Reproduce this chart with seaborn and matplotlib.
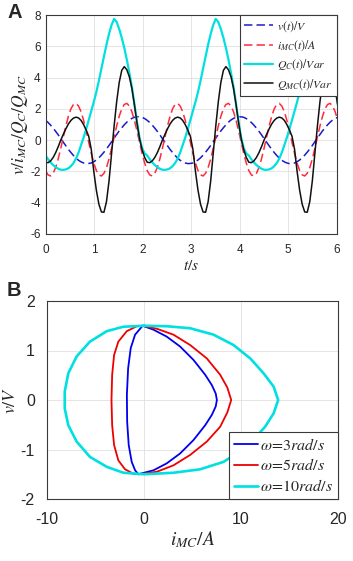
import matplotlib
matplotlib.use("Agg")
import matplotlib.pyplot as plt
import seaborn as sns

# ---------------- Panel A data ----------------
t_s = [0.0000, 0.0524, 0.1047, 0.1571, 0.2094, 0.2618, 0.3142, 0.3665, 0.4189, 0.4712,
       0.5236, 0.5760, 0.6283, 0.6807, 0.7330, 0.7854, 0.8378, 0.8901, 0.9425, 0.9948,
       1.0472, 1.0996, 1.1519, 1.2043, 1.2566, 1.3090, 1.3614, 1.4137, 1.4661, 1.5184,
       1.5708, 1.6232, 1.6755, 1.7279, 1.7802, 1.8326, 1.8850, 1.9373, 1.9897, 2.0420,
       2.0944, 2.1468, 2.1991, 2.2515, 2.3038, 2.3562, 2.4086, 2.4609, 2.5133, 2.5656,
       2.6180, 2.6704, 2.7227, 2.7751, 2.8274, 2.8798, 2.9322, 2.9845, 3.0369, 3.0892,
       3.1416, 3.1940, 3.2463, 3.2987, 3.3510, 3.4034, 3.4558, 3.5081, 3.5605, 3.6128,
       3.6652, 3.7176, 3.7699, 3.8223, 3.8746, 3.9270, 3.9794, 4.0317, 4.0841, 4.1364,
       4.1888, 4.2412, 4.2935, 4.3459, 4.3982, 4.4506, 4.5029, 4.5553, 4.6077, 4.6600,
       4.7124, 4.7648, 4.8171, 4.8695, 4.9218, 4.9742, 5.0265, 5.0789, 5.1313, 5.1836,
       5.2360, 5.2883, 5.3407, 5.3931, 5.4454, 5.4978, 5.5501, 5.6025, 5.6549, 5.7072,
       5.7596, 5.8119, 5.8643, 5.9166, 5.9690, 6.0214]

v_t = [1.27, 1.13, 0.96, 0.77, 0.56, 0.34, 0.10, -0.13, -0.36, -0.59,
       -0.79, -0.98, -1.15, -1.29, -1.39, -1.46, -1.50, -1.49, -1.46, -1.38,
       -1.27, -1.13, -0.96, -0.77, -0.56, -0.34, -0.10, 0.13, 0.36, 0.59,
       0.79, 0.98, 1.15, 1.29, 1.39, 1.46, 1.50, 1.49, 1.46, 1.38,
       1.27, 1.13, 0.96, 0.77, 0.56, 0.34, 0.10, -0.13, -0.36, -0.59,
       -0.79, -0.98, -1.15, -1.29, -1.39, -1.46, -1.50, -1.49, -1.46, -1.38,
       -1.27, -1.13, -0.96, -0.77, -0.56, -0.34, -0.10, 0.13, 0.36, 0.59,
       0.79, 0.98, 1.15, 1.29, 1.39, 1.46, 1.50, 1.49, 1.46, 1.38,
       1.27, 1.13, 0.96, 0.77, 0.56, 0.34, 0.10, -0.13, -0.36, -0.59,
       -0.79, -0.98, -1.15, -1.29, -1.39, -1.46, -1.50, -1.49, -1.46, -1.38,
       -1.27, -1.13, -0.96, -0.77, -0.56, -0.34, -0.10, 0.13, 0.36, 0.59,
       0.79, 0.98, 1.15, 1.29, 1.39, 1.46]

i_mc_t = [-1.94, -2.22, -2.29, -2.12, -1.75, -1.20, -0.53, 0.19, 0.90, 1.52,
          2.00, 2.28, 2.35, 2.18, 1.81, 1.26, 0.59, -0.13, -0.84, -1.46,
          -1.94, -2.22, -2.29, -2.12, -1.75, -1.20, -0.53, 0.19, 0.90, 1.52,
          2.00, 2.28, 2.35, 2.18, 1.81, 1.26, 0.59, -0.13, -0.84, -1.46,
          -1.94, -2.22, -2.29, -2.12, -1.75, -1.20, -0.53, 0.19, 0.90, 1.52,
          2.00, 2.28, 2.35, 2.18, 1.81, 1.26, 0.59, -0.13, -0.84, -1.46,
          -1.94, -2.22, -2.29, -2.12, -1.75, -1.20, -0.53, 0.19, 0.90, 1.52,
          2.00, 2.28, 2.35, 2.18, 1.81, 1.26, 0.59, -0.13, -0.84, -1.46,
          -1.94, -2.22, -2.29, -2.12, -1.75, -1.20, -0.53, 0.19, 0.90, 1.52,
          2.00, 2.28, 2.35, 2.18, 1.81, 1.26, 0.59, -0.13, -0.84, -1.46,
          -1.94, -2.22, -2.29, -2.12, -1.75, -1.20, -0.53, 0.19, 0.90, 1.52,
          2.00, 2.28, 2.35, 2.18, 1.81, 1.26]

q_c_t = [-0.98, -1.22, -1.42, -1.59, -1.73, -1.83, -1.89, -1.90, -1.87, -1.80,
         -1.66, -1.47, -1.18, -0.79, -0.31, 0.17, 0.71, 1.28, 1.86, 2.44,
         3.07, 3.79, 4.57, 5.34, 6.11, 6.79, 7.36, 7.75, 7.55, 7.10,
         6.55, 5.90, 5.15, 4.30, 3.40, 2.30, 1.15, 0.15, -0.50, -0.85,
         -0.98, -1.22, -1.42, -1.59, -1.73, -1.83, -1.89, -1.90, -1.87, -1.80,
         -1.66, -1.47, -1.18, -0.79, -0.31, 0.17, 0.71, 1.28, 1.86, 2.44,
         3.07, 3.79, 4.57, 5.34, 6.11, 6.79, 7.36, 7.75, 7.55, 7.10,
         6.55, 5.90, 5.15, 4.30, 3.40, 2.30, 1.15, 0.15, -0.50, -0.85,
         -0.98, -1.22, -1.42, -1.59, -1.73, -1.83, -1.89, -1.90, -1.87, -1.80,
         -1.66, -1.47, -1.18, -0.79, -0.31, 0.17, 0.71, 1.28, 1.86, 2.44,
         3.07, 3.79, 4.57, 5.34, 6.11, 6.79, 7.36, 7.75, 7.55, 7.10,
         6.55, 5.90, 5.15, 4.30, 3.40, 2.30]

q_mc_t = [-1.41, -1.44, -1.33, -1.11, -0.80, -0.42, 0.00, 0.37, 0.72, 1.03,
          1.26, 1.41, 1.47, 1.42, 1.26, 0.99, 0.65, 0.25, -0.58, -1.99,
          -3.19, -4.09, -4.59, -4.61, -3.93, -2.61, -0.85, 0.90, 2.45, 3.68,
          4.46, 4.70, 4.50, 4.05, 3.30, 2.25, 1.10, 0.10, -0.60, -1.10,
          -1.41, -1.44, -1.33, -1.11, -0.80, -0.42, 0.00, 0.37, 0.72, 1.03,
          1.26, 1.41, 1.47, 1.42, 1.26, 0.99, 0.65, 0.25, -0.58, -1.99,
          -3.19, -4.09, -4.59, -4.61, -3.93, -2.61, -0.85, 0.90, 2.45, 3.68,
          4.46, 4.70, 4.50, 4.05, 3.30, 2.25, 1.10, 0.10, -0.60, -1.10,
          -1.41, -1.44, -1.33, -1.11, -0.80, -0.42, 0.00, 0.37, 0.72, 1.03,
          1.26, 1.41, 1.47, 1.42, 1.26, 0.99, 0.65, 0.25, -0.58, -1.99,
          -3.19, -4.09, -4.59, -4.61, -3.93, -2.61, -0.85, 0.90, 2.45, 3.68,
          4.46, 4.70, 4.50, 4.05, 3.30, 2.25]

labels_A = [r"$v(t)/V$", r"$i_{MC}(t)/A$", r"$Q_C(t)/Var$", r"$Q_{MC}(t)/Var$"]
xticks_A = [0, 1, 2, 3, 4, 5, 6]
yticks_A = [-6, -4, -2, 0, 2, 4, 6, 8]

# ---------------- Panel B data ----------------
i_w3 = [-0.15, 0.97, 2.34, 3.72, 5.10, 6.31, 7.00, 7.40, 7.52, 7.40, 7.00, 6.31, 5.10,
        3.72, 2.34, 0.97, -0.60, -0.93, -1.28, -1.59, -1.75, -1.78, -1.65, -1.38,
        -0.93, -0.15]
v_w3 = [1.50, 1.42, 1.28, 1.08, 0.81, 0.51, 0.30, 0.13, 0.00, -0.13, -0.30, -0.51, -0.81,
        -1.08, -1.28, -1.42, -1.50, -1.42, -1.25, -0.91, -0.44, 0.10, 0.64, 1.05,
        1.32, 1.50]

i_w5 = [-0.20, 1.31, 3.03, 4.76, 6.48, 7.86, 8.60, 9.00, 8.60, 7.86, 6.48, 4.76, 3.03,
        1.31, -0.50, -1.10, -1.97, -2.66, -3.10, -3.30, -3.37, -3.30, -3.10, -2.66,
        -1.79, -0.76, -0.20]
v_w5 = [1.50, 1.44, 1.32, 1.11, 0.84, 0.51, 0.25, 0.00, -0.25, -0.54, -0.84, -1.11, -1.32,
        -1.45, -1.50, -1.49, -1.40, -1.22, -0.91, -0.51, 0.00, 0.51, 0.91, 1.18,
        1.39, 1.49, 1.50]

i_w10 = [0.00, 2.34, 4.76, 7.17, 9.24, 10.97, 12.34, 13.38, 13.85, 13.38, 12.50, 11.30,
         9.80, 8.20, 5.79, 3.03, 0.00, -2.14, -3.86, -5.59, -6.97, -7.83, -8.20, -8.20,
         -7.83, -6.97, -5.59, -3.86, -2.14, 0.00]
v_w10 = [1.50, 1.49, 1.45, 1.32, 1.11, 0.84, 0.54, 0.27, 0.00, -0.27, -0.54, -0.80,
         -1.05, -1.25, -1.40, -1.47, -1.50, -1.47, -1.35, -1.15, -0.84, -0.51, -0.17, 0.17,
         0.54, 0.88, 1.18, 1.39, 1.48, 1.50]

labels_B = [r"$\omega\!=\!3\mathit{rad/s}$", r"$\omega\!=\!5\mathit{rad/s}$",
            r"$\omega\!=\!10\mathit{rad/s}$"]
xticks_B = [-10, 0, 10, 20]
yticks_B = [-2, -1, 0, 1, 2]

# ---------------- style ----------------
sns.set_theme(style="whitegrid")
plt.rcParams["font.family"] = ["Liberation Sans", "DejaVu Sans"]
plt.rcParams["mathtext.fontset"] = "stix"
plt.rcParams["axes.unicode_minus"] = False
plt.rcParams["axes.edgecolor"] = "#3a3a3a"
plt.rcParams["axes.linewidth"] = 0.8
plt.rcParams["grid.color"] = "#e0e0e0"
plt.rcParams["grid.linewidth"] = 0.6

W, H = 353, 561
fig = plt.figure(figsize=(W / 100, H / 100), dpi=100)
axA = fig.add_axes([45.5 / W, 1 - 234 / H, (336.7 - 45.5) / W, (234 - 15) / H])
axB = fig.add_axes([47.3 / W, 1 - 499 / H, (337.7 - 47.3) / W, (499 - 301) / H])

# ---------------- Panel A ----------------
dash = (0, (5.5, 2.7))
sns.lineplot(x=t_s, y=v_t, ax=axA, color="#1a1acc", lw=1.1,
             linestyle=dash, label=labels_A[0])
sns.lineplot(x=t_s, y=i_mc_t, ax=axA, color="#ff2a3a", lw=1.1,
             linestyle=dash, label=labels_A[1])
sns.lineplot(x=t_s, y=q_c_t, ax=axA, color="#00e0e0", lw=1.6, label=labels_A[2])
sns.lineplot(x=t_s, y=q_mc_t, ax=axA, color="#111111", lw=1.1, label=labels_A[3])

axA.set_xlim(0, 6)
axA.set_ylim(-6, 8)
axA.set_xticks(xticks_A)
axA.set_yticks(yticks_A)
axA.tick_params(labelsize=8.5, direction="in", length=2.5, color="#3a3a3a")
axA.tick_params(axis="x", pad=7)
axA.tick_params(axis="y", pad=3.5)
axA.set_xlabel(r"$t/s$", fontsize=11, labelpad=2)
axA.set_ylabel(r"$v/i_{MC}/Q_C/Q_{MC}$", fontsize=12.5, labelpad=0)
legA = axA.legend(loc="upper right", borderaxespad=0, fontsize=8.5, frameon=True,
                  fancybox=False, edgecolor="#3a3a3a", framealpha=1,
                  handlelength=2.5, handletextpad=0.3, labelspacing=0.4,
                  borderpad=0.35)
legA.get_frame().set_linewidth(0.8)

# ---------------- Panel B ----------------
sns.lineplot(x=i_w3, y=v_w3, ax=axB, sort=False, estimator=None,
             color="#0000ee", lw=1.3, label=labels_B[0])
sns.lineplot(x=i_w5, y=v_w5, ax=axB, sort=False, estimator=None,
             color="#ee0000", lw=1.3, label=labels_B[1])
sns.lineplot(x=i_w10, y=v_w10, ax=axB, sort=False, estimator=None,
             color="#00e0e0", lw=1.9, label=labels_B[2])

axB.set_xlim(-10, 20)
axB.set_ylim(-2, 2)
axB.set_xticks(xticks_B)
axB.set_yticks(yticks_B)
axB.tick_params(labelsize=11.5, direction="in", length=2.5, color="#3a3a3a", pad=9)
axB.set_xlabel(r"$i_{MC}/A$", fontsize=14, labelpad=2)
axB.set_ylabel(r"$v/V$", fontsize=13, labelpad=1)
legB = axB.legend(loc="lower right", borderaxespad=0, fontsize=11.5, frameon=True,
                  fancybox=False, edgecolor="#3a3a3a", framealpha=1,
                  handlelength=1.5, handletextpad=0.1, labelspacing=0.3,
                  borderpad=0.3)
legB.get_frame().set_linewidth(0.8)

for ax in (axA, axB):
    for s in ax.spines.values():
        s.set_visible(True)
        s.set_color("#3a3a3a")

fig.text(7 / W, 1 - 3 / H, "A", fontsize=14.5, fontweight="bold", va="top", ha="left")
fig.text(7 / W, 1 - 281 / H, "B", fontsize=14.5, fontweight="bold", va="top", ha="left")

fig.savefig("out.png", dpi=100)
